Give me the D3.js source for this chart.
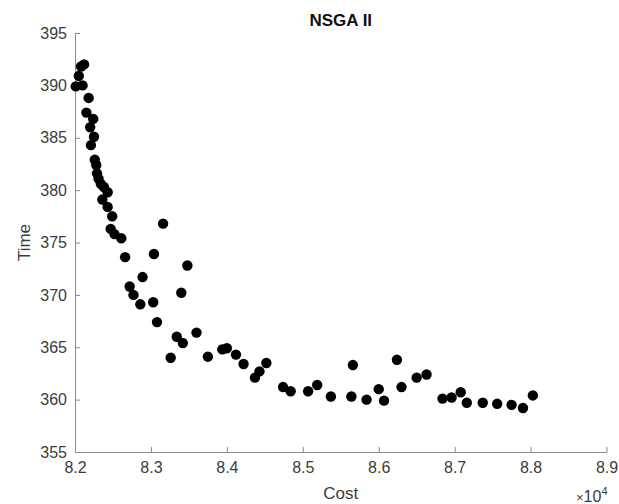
<!DOCTYPE html>
<html>
<head>
<meta charset="utf-8">
<script src="https://cdn.jsdelivr.net/npm/d3@7"></script>
<style>
  body { margin: 0; background: #fff; }
  svg { font-family: "Liberation Sans", Arial, sans-serif; }
</style>
</head>
<body>
<svg id="chart" width="619" height="504"></svg>
<script>
// cost values (x 10^4) and time values
var cost = [8.201, 8.205, 8.208, 8.212, 8.210, 8.218, 8.215, 8.224, 8.220, 8.225,
            8.221, 8.226, 8.228, 8.229, 8.231, 8.234, 8.238, 8.243, 8.236, 8.243,
            8.249, 8.247, 8.252, 8.261, 8.316, 8.266, 8.304, 8.348, 8.272, 8.277,
            8.289, 8.286, 8.303, 8.340, 8.308, 8.360, 8.334, 8.342, 8.326, 8.375,
            8.394, 8.400, 8.412, 8.422, 8.437, 8.443, 8.452, 8.474, 8.484, 8.507,
            8.519, 8.537, 8.564, 8.566, 8.584, 8.600, 8.607, 8.624, 8.630, 8.650,
            8.663, 8.684, 8.696, 8.708, 8.716, 8.737, 8.756, 8.775, 8.790, 8.803];
var time = [389.9, 390.9, 391.8, 392.0, 390.0, 388.8, 387.4, 386.8, 386.0, 385.1,
            384.3, 382.9, 382.4, 381.6, 381.1, 380.6, 380.3, 379.8, 379.1, 378.4,
            377.5, 376.3, 375.8, 375.4, 376.8, 373.6, 373.9, 372.8, 370.8, 370.0,
            371.7, 369.1, 369.3, 370.2, 367.4, 366.4, 366.0, 365.4, 364.0, 364.1,
            364.8, 364.9, 364.3, 363.4, 362.1, 362.7, 363.5, 361.2, 360.8, 360.8,
            361.4, 360.3, 360.3, 363.3, 360.0, 361.0, 359.9, 363.8, 361.2, 362.1,
            362.4, 360.1, 360.2, 360.7, 359.7, 359.7, 359.6, 359.5, 359.2, 360.4];
var xTicks = [8.2, 8.3, 8.4, 8.5, 8.6, 8.7, 8.8, 8.9];
var yTicks = [355, 360, 365, 370, 375, 380, 385, 390, 395];

var plotLeft = 75, plotRight = 606.5, plotTop = 33, plotBottom = 452;
var axisColor = '#8a8a8a', textColor = '#3c3c3c';

var svg = d3.select('#chart');

var x = d3.scaleLinear().domain([8.2, 8.9]).range([plotLeft, plotRight]);
var y = d3.scaleLinear().domain([355, 395]).range([plotBottom, plotTop]);

var xAxis = svg.append('g')
    .attr('transform', 'translate(0,' + plotBottom + ')')
    .call(d3.axisBottom(x).tickValues(xTicks).tickFormat(d3.format('.1f'))
        .tickSize(-5).tickSizeOuter(0).tickPadding(10));

var yAxis = svg.append('g')
    .attr('transform', 'translate(' + plotLeft + ',0)')
    .call(d3.axisLeft(y).tickValues(yTicks).tickFormat(d3.format('d'))
        .tickSize(-5).tickSizeOuter(0).tickPadding(8));

[xAxis, yAxis].forEach(function (g) {
    g.select('.domain').attr('stroke', axisColor);
    g.selectAll('.tick line').attr('stroke', axisColor);
    g.selectAll('.tick text')
        .attr('fill', textColor)
        .style('font-size', '16px');
});

svg.append('g')
    .selectAll('circle')
    .data(cost)
    .enter()
    .append('circle')
    .attr('cx', function (d) { return x(d); })
    .attr('cy', function (d, i) { return y(time[i]); })
    .attr('r', 5.2)
    .attr('fill', '#000');

svg.append('text')
    .attr('x', (plotLeft + plotRight) / 2)
    .attr('y', 26)
    .attr('text-anchor', 'middle')
    .style('font-size', '17px')
    .style('font-weight', 'bold')
    .attr('fill', '#111')
    .text('NSGA II');

svg.append('text')
    .attr('x', (plotLeft + plotRight) / 2)
    .attr('y', 499)
    .attr('text-anchor', 'middle')
    .style('font-size', '17px')
    .attr('fill', textColor)
    .text('Cost');

svg.append('text')
    .attr('transform', 'translate(30,' + (plotTop + plotBottom) / 2 + ') rotate(-90)')
    .attr('text-anchor', 'middle')
    .style('font-size', '17px')
    .attr('fill', textColor)
    .text('Time');

var mult = svg.append('text')
    .attr('x', 576)
    .attr('y', 502)
    .style('font-size', '16px')
    .attr('fill', textColor);
mult.append('tspan').style('font-size', '13px').text('\u00d7');
mult.append('tspan').text('10');
mult.append('tspan').attr('dy', -7).style('font-size', '11px').text('4');
</script>
</body>
</html>
